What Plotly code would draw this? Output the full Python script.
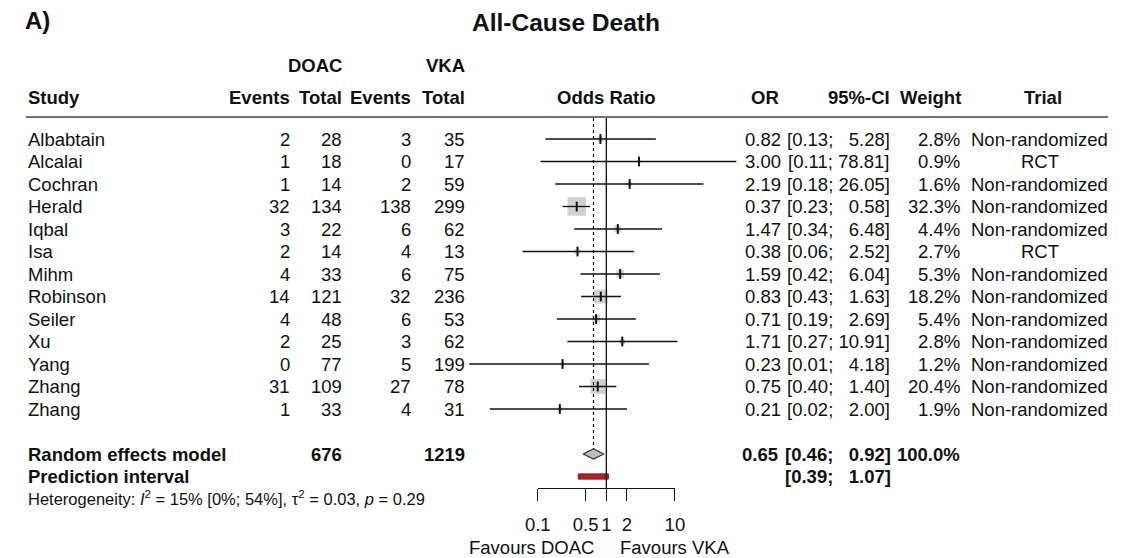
import math
import plotly.graph_objects as go

# ---------------- data ----------------
studies = ["Albabtain", "Alcalai", "Cochran", "Herald", "Iqbal", "Isa", "Mihm",
           "Robinson", "Seiler", "Xu", "Yang", "Zhang", "Zhang"]
ev_doac = [2, 1, 1, 32, 3, 2, 4, 14, 4, 2, 0, 31, 1]
n_doac = [28, 18, 14, 134, 22, 14, 33, 121, 48, 25, 77, 109, 33]
ev_vka = [3, 0, 2, 138, 6, 4, 6, 32, 6, 3, 5, 27, 4]
n_vka = [35, 17, 59, 299, 62, 13, 75, 236, 53, 62, 199, 78, 31]
odds = [0.82, 3.00, 2.19, 0.37, 1.47, 0.38, 1.59, 0.83, 0.71, 1.71, 0.23, 0.75, 0.21]
ci_lo = [0.13, 0.11, 0.18, 0.23, 0.34, 0.06, 0.42, 0.43, 0.19, 0.27, 0.01, 0.40, 0.02]
ci_hi = [5.28, 78.81, 26.05, 0.58, 6.48, 2.52, 6.04, 1.63, 2.69, 10.91, 4.18, 1.40, 2.00]
weights = [2.8, 0.9, 1.6, 32.3, 4.4, 2.7, 5.3, 18.2, 5.4, 2.8, 1.2, 20.4, 1.9]
trial = ["Non-randomized", "RCT", "Non-randomized", "Non-randomized", "Non-randomized",
         "RCT", "Non-randomized", "Non-randomized", "Non-randomized", "Non-randomized",
         "Non-randomized", "Non-randomized", "Non-randomized"]

pooled_or = 0.65
pooled_lo = 0.46
pooled_hi = 0.92
pred_lo = 0.39
pred_hi = 1.07
total_doac = 676
total_vka = 1219
het_text = ("Heterogeneity: <i>I</i><sup>2</sup> = 15% [0%; 54%], "
            "τ<sup>2</sup> = 0.03, <i>p</i> = 0.29")
axis_ticks = [0.1, 0.5, 1, 2, 10]
axis_ticklabels = ["0.1", "0.5", "1", "2", "10"]

# ---------------- layout helpers ----------------
W, H = 1125, 558
ROW0, ROWH = 139.0, 22.5          # pixel y of first study row, row height
X_NULL, PX_DEC = 605.7, 70.0      # pixel x of OR=1, pixels per decade
FONT = "Liberation Sans, Arial, sans-serif"
FS = 18.5
NB = "\u00a0"
INK = "#111"

def px(x):
    return x / W

def rowy(py):
    return (py - ROW0) / ROWH

n = len(studies)
rows = list(range(n))
r_pool = n + 1
r_pred = n + 2
r_het = rowy(498)
r_axis = rowy(488)

fig = go.Figure()

# squares (side ~ sqrt(weight))
maxw = max(weights)
sizes = [18.5 * math.sqrt(w / maxw) for w in weights]
fig.add_trace(go.Scatter(x=odds, y=rows, mode="markers",
                         marker=dict(symbol="square", size=sizes, color="#bdbdbd",
                                     line=dict(width=0)),
                         hoverinfo="skip", showlegend=False))
# CI lines
lx, ly = [], []
for r, a, b in zip(rows, ci_lo, ci_hi):
    lx += [a, b, None]
    ly += [r, r, None]
fig.add_trace(go.Scatter(x=lx, y=ly, mode="lines", line=dict(color=INK, width=1.3),
                         hoverinfo="skip", showlegend=False))
# point estimate tick
fig.add_trace(go.Scatter(x=odds, y=rows, mode="markers",
                         marker=dict(symbol="line-ns-open", size=7, color=INK,
                                     line=dict(color=INK, width=2)),
                         hoverinfo="skip", showlegend=False))
# diamond
dh = 5.0 / ROWH
fig.add_trace(go.Scatter(x=[pooled_lo, pooled_or, pooled_hi, pooled_or, pooled_lo],
                         y=[r_pool, r_pool - dh, r_pool, r_pool + dh, r_pool],
                         mode="lines", fill="toself", fillcolor="#bdbdbd",
                         line=dict(color="#333", width=1.2),
                         hoverinfo="skip", showlegend=False))
# prediction interval bar
ph = 2.6 / ROWH
fig.add_trace(go.Scatter(x=[pred_lo, pred_hi, pred_hi, pred_lo, pred_lo],
                         y=[r_pred - ph, r_pred - ph, r_pred + ph, r_pred + ph, r_pred - ph],
                         mode="lines", fill="toself", fillcolor="#b22222",
                         line=dict(color="#8b1a1a", width=1),
                         hoverinfo="skip", showlegend=False))
# dummy trace for the visible axis
fig.add_trace(go.Scatter(x=[axis_ticks[0], axis_ticks[-1]], y=[r_axis, r_axis],
                         xaxis="x2", yaxis="y", mode="lines",
                         line=dict(width=0, color="rgba(0,0,0,0)"),
                         hoverinfo="skip", showlegend=False))

# reference lines
r_top = rowy(118)
fig.add_shape(type="line", xref="x", yref="y", x0=1, x1=1, y0=r_top, y1=r_axis,
              line=dict(color=INK, width=1.3))
fig.add_shape(type="line", xref="x", yref="y", x0=pooled_or, x1=pooled_or,
              y0=r_top, y1=r_pool - dh, line=dict(color=INK, width=1.2, dash="dot"))
# header rule
fig.add_shape(type="line", xref="paper", yref="y", x0=px(13), x1=px(1118),
              y0=rowy(117), y1=rowy(117), line=dict(color="#444", width=1.5))

ann = []

def txt(s, xpix, y, anchor, bold=False, size=FS):
    ann.append(dict(text=f"<b>{s}</b>" if bold else s, x=px(xpix), y=y,
                    xref="paper", yref="y", xanchor=anchor, yanchor="middle",
                    showarrow=False, font=dict(family=FONT, size=size, color=INK)))

# title
txt("A)", 10, rowy(20), "left", True, 24)
txt("All-Cause Death", 565, rowy(22), "center", True, 24.5)

# headers
hy1, hy2 = rowy(65), rowy(97)
txt("DOAC", 338, hy1, "right", True)
txt("VKA", 463, hy1, "right", True)
txt("Study", 13, hy2, "left", True)
txt("Events", 285, hy2, "right", True)
txt("Total", 338, hy2, "right", True)
txt("Events", 408, hy2, "right", True)
txt("Total", 463, hy2, "right", True)
txt("Odds Ratio", 606, hy2, "center", True)
txt("OR", 784, hy2, "right", True)
txt("95%-CI", 897, hy2, "right", True)
txt("Weight", 970, hy2, "right", True)
txt("Trial", 1051, hy2, "center", True)

def fmt_ci(a, b, width=5):
    s = f"{b:.2f}"
    pad = NB * (2 * (width - len(s)))
    return f"[{a:.2f};{NB}{pad}{s}]"

for r in rows:
    txt(studies[r], 13, r, "left")
    txt(str(ev_doac[r]), 285, r, "right")
    txt(str(n_doac[r]), 338, r, "right")
    txt(str(ev_vka[r]), 408, r, "right")
    txt(str(n_vka[r]), 463, r, "right")
    txt(f"{odds[r]:.2f}", 786, r, "right")
    txt(fmt_ci(ci_lo[r], ci_hi[r]), 897, r, "right")
    txt(f"{weights[r]:.1f}%", 969, r, "right")
    txt(trial[r], 1048, r, "center")

txt("Random effects model", 13, r_pool, "left", True)
txt(str(total_doac), 338, r_pool, "right", True)
txt(str(total_vka), 463, r_pool, "right", True)
txt(f"{pooled_or:.2f}", 783, r_pool, "right", True)
txt(fmt_ci(pooled_lo, pooled_hi), 898, r_pool, "right", True)
txt("100.0%", 969, r_pool, "right", True)
txt("Prediction interval", 13, r_pred, "left", True)
txt(fmt_ci(pred_lo, pred_hi), 898, r_pred, "right", True)
txt(het_text, 13, r_het, "left", False, 16.5)

txt("Favours DOAC", 595, rowy(547), "right")
txt("Favours VKA", 618, rowy(547), "left")

fig.update_layout(annotations=ann)

lo_log = -X_NULL / PX_DEC
hi_log = (W - X_NULL) / PX_DEC
fig.update_layout(
    width=W, height=H, margin=dict(l=0, r=0, t=0, b=0),
    paper_bgcolor="white", plot_bgcolor="rgba(0,0,0,0)",
    xaxis=dict(type="log", range=[lo_log, hi_log], domain=[0, 1], visible=False,
               fixedrange=True),
    xaxis2=dict(type="log", range=[-1, 1],
                domain=[px(X_NULL - PX_DEC), px(X_NULL + PX_DEC)],
                anchor="free", position=1 - 488 / H,
                tickvals=axis_ticks, ticktext=axis_ticklabels, tickangle=0,
                showline=True, linecolor=INK, linewidth=1.2,
                ticks="outside", ticklen=12, tickwidth=1.2, tickcolor=INK,
                ticklabelstandoff=8,
                showgrid=False, zeroline=False, fixedrange=True,
                tickfont=dict(family=FONT, size=FS, color=INK)),
    yaxis=dict(range=[(H - ROW0) / ROWH, -ROW0 / ROWH], domain=[0, 1], visible=False,
               fixedrange=True),
    showlegend=False,
)

fig.write_html(
    "out.html",
    config={"displayModeBar": False},
    post_script="document.body.style.margin='0';document.body.style.overflow='hidden';",
)
